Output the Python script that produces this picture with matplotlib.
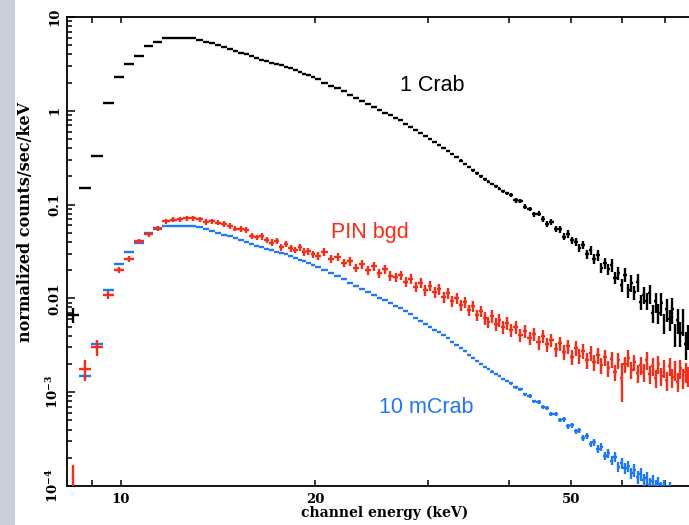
import numpy as np
import matplotlib
matplotlib.use("Agg")
import matplotlib.pyplot as plt
from matplotlib.patches import Rectangle
from matplotlib.ticker import NullFormatter, LogLocator

# ---------------- data ----------------
energy = [
    8.42, 8.79, 9.19, 9.56, 9.93, 10.29, 10.66, 11.05, 11.41,
    11.75, 12.05, 12.35, 12.65, 12.95, 13.25, 13.55, 13.85, 14.15, 14.45,
    14.75, 15.05, 15.35, 15.65, 15.95, 16.25, 16.55, 16.85, 17.15, 17.45,
    17.75, 18.05, 18.35, 18.65, 18.95, 19.25, 19.55, 19.85,
    20.2, 20.7, 21.2, 21.7, 22.2, 22.7, 23.2, 23.7, 24.2, 24.7,
    25.2, 25.7, 26.2, 26.7, 27.2, 27.7, 28.2, 28.7, 29.2, 29.7,
    30.2, 30.7, 31.2, 31.7, 32.2, 32.7, 33.2, 33.7, 34.2, 34.7,
    35.2, 35.7, 36.2, 36.7, 37.2, 37.7, 38.2, 38.7, 39.2, 39.7,
    40.3, 41.0, 41.7, 42.4, 43.1, 43.8, 44.5, 45.2, 45.9, 46.6,
    47.3, 48.0, 48.7, 49.4, 50.1, 50.8, 51.5, 52.2, 52.9, 53.6,
    54.3, 55.0, 55.7, 56.4, 57.1, 57.8, 58.5, 59.2, 59.9, 60.6,
    61.3, 62.0, 62.7, 63.4, 64.1, 64.8, 65.5, 66.2, 66.9, 67.6,
    68.3, 69.0, 69.7, 70.4, 71.1, 71.8, 72.5, 73.2, 73.9, 74.6,
    75.3, 76.0,
]

crab_1 = [
    0.00665, 0.150, 0.33, 1.21, 2.29, 3.16, 3.84, 4.91, 5.41,
    5.93, 5.97, 5.98, 5.97, 5.92, 5.71, 5.47, 5.22, 4.99, 4.78,
    4.57, 4.37, 4.17, 3.99, 3.82, 3.66, 3.52, 3.40, 3.27, 3.16,
    3.05, 2.94, 2.83, 2.71, 2.59, 2.48, 2.38, 2.28,
    2.16, 2.00, 1.86, 1.73, 1.61, 1.47, 1.36, 1.27, 1.18, 1.10,
    1.02, 0.957, 0.895, 0.839, 0.789, 0.730, 0.675, 0.625, 0.579, 0.537,
    0.500, 0.465, 0.433, 0.404, 0.377, 0.346, 0.319, 0.294, 0.272, 0.251,
    0.233, 0.216, 0.200, 0.187, 0.176, 0.166, 0.157, 0.148, 0.139, 0.132,
    0.1255, 0.1106, 0.1082, 0.0949, 0.0902, 0.0793, 0.0797, 0.0703, 0.0625, 0.0649,
    0.0551, 0.0548, 0.0456, 0.0487, 0.0417, 0.0403, 0.0347, 0.0370, 0.0294, 0.0328,
    0.0264, 0.0290, 0.0213, 0.0237, 0.0205, 0.0227, 0.0167, 0.0187, 0.0139, 0.0179,
    0.0122, 0.0147, 0.0116, 0.0149, 0.0092, 0.0110, 0.0094, 0.0113, 0.0070, 0.0093,
    0.0070, 0.0090, 0.0055, 0.0077, 0.0060, 0.0077, 0.0042, 0.0059, 0.0043, 0.0058,
    0.0033, 0.0040,
]
crab_1_rel_err = [
    0.18, 0.03, 0.02, 0.01, 0.01, 0.01, 0.01, 0.01, 0.01,
    0.01, 0.01, 0.01, 0.01, 0.01, 0.01, 0.01, 0.01, 0.01, 0.01,
    0.01, 0.01, 0.01, 0.01, 0.01, 0.01, 0.01, 0.01, 0.01, 0.01,
    0.012, 0.012, 0.012, 0.012, 0.012, 0.012, 0.012, 0.012,
    0.015, 0.015, 0.015, 0.015, 0.015, 0.015, 0.015, 0.015, 0.015, 0.015,
    0.02, 0.02, 0.02, 0.02, 0.02, 0.02, 0.02, 0.02, 0.02, 0.02,
    0.025, 0.03, 0.025, 0.03, 0.025, 0.03, 0.025, 0.03, 0.03, 0.03,
    0.035, 0.035, 0.04, 0.035, 0.04, 0.035, 0.04, 0.04, 0.04, 0.04,
    0.05, 0.06, 0.05, 0.06, 0.05, 0.06, 0.06, 0.07, 0.07, 0.07,
    0.08, 0.09, 0.08, 0.09, 0.09, 0.10, 0.10, 0.10, 0.11, 0.11,
    0.12, 0.14, 0.12, 0.14, 0.13, 0.15, 0.14, 0.16, 0.15, 0.17,
    0.18, 0.21, 0.18, 0.21, 0.19, 0.21, 0.20, 0.23, 0.22, 0.24,
    0.24, 0.28, 0.25, 0.28, 0.26, 0.30, 0.28, 0.30, 0.30, 0.32,
    0.33, 0.30,
]

pin_bgd = [
    8.0e-5, 1.77e-3, 3.03e-3, 0.0109, 0.0201, 0.0263, 0.0409, 0.0486, 0.0562,
    0.0668, 0.0693, 0.0701, 0.0719, 0.0711, 0.0701, 0.0652, 0.0668, 0.0644, 0.0628,
    0.0592, 0.0556, 0.0550, 0.0536, 0.0462, 0.0446, 0.0457, 0.0420, 0.0394, 0.0409,
    0.0349, 0.0380, 0.0344, 0.0328, 0.0353, 0.0313, 0.0320, 0.0297,
    0.0283, 0.0313, 0.0263, 0.0276, 0.0238, 0.0251, 0.0211, 0.0233, 0.0201, 0.0221,
    0.0187, 0.0206, 0.0173, 0.0169, 0.0177, 0.0150, 0.0161, 0.0132, 0.0146, 0.0123,
    0.0136, 0.0117, 0.0126, 0.01035, 0.0114, 0.00938, 0.0101, 0.00851, 0.00916, 0.00752,
    0.00830, 0.00665, 0.00735, 0.00618, 0.00560, 0.00649, 0.00533, 0.00589, 0.00495, 0.00547,
    0.00460, 0.00495, 0.00407, 0.00449, 0.00378, 0.00417, 0.00343, 0.00397, 0.00327, 0.00361,
    0.00289, 0.00335, 0.00269, 0.00311, 0.00237, 0.00296, 0.00243, 0.00275, 0.00220, 0.00262,
    0.00210, 0.00249, 0.00195, 0.00237, 0.00181, 0.00226, 0.00164, 0.00220, 0.00142, 0.00200,
    0.00232, 0.00173, 0.00210, 0.00160, 0.00195, 0.00164, 0.00220, 0.00156, 0.00190, 0.00142,
    0.00200, 0.00149, 0.00181, 0.00135, 0.00190, 0.00145, 0.00173, 0.00129, 0.00181, 0.00142,
    0.00164, 0.00149,
]
pin_bgd_rel_err = [
    1.10, 0.25, 0.20, 0.09, 0.07, 0.07, 0.06, 0.06, 0.06,
    0.06, 0.06, 0.06, 0.06, 0.06, 0.06, 0.07, 0.06, 0.07, 0.07,
    0.07, 0.07, 0.07, 0.07, 0.08, 0.07, 0.08, 0.08, 0.08, 0.08,
    0.08, 0.08, 0.09, 0.08, 0.09, 0.09, 0.09, 0.09,
    0.10, 0.10, 0.10, 0.10, 0.10, 0.11, 0.10, 0.11, 0.11, 0.11,
    0.11, 0.11, 0.12, 0.11, 0.12, 0.12, 0.12, 0.12, 0.12, 0.13,
    0.12, 0.13, 0.13, 0.13, 0.13, 0.13, 0.13, 0.14, 0.13, 0.14,
    0.14, 0.14, 0.14, 0.15, 0.14, 0.15, 0.15, 0.15, 0.15, 0.15,
    0.15, 0.16, 0.15, 0.16, 0.16, 0.16, 0.17, 0.16, 0.17, 0.17,
    0.17, 0.17, 0.18, 0.17, 0.18, 0.18, 0.18, 0.18, 0.19, 0.18,
    0.19, 0.19, 0.19, 0.20, 0.19, 0.20, 0.20, 0.20, 0.45, 0.20,
    0.20, 0.21, 0.20, 0.21, 0.21, 0.21, 0.21, 0.22, 0.21, 0.22,
    0.22, 0.22, 0.22, 0.23, 0.22, 0.23, 0.23, 0.23, 0.23, 0.23,
    0.24, 0.24,
]

crab_10m = [
    6.65e-5, 1.48e-3, 3.27e-3, 0.0123, 0.0233, 0.0313, 0.0389, 0.0498, 0.0550,
    0.0593, 0.0597, 0.0598, 0.0597, 0.0592, 0.0571, 0.0547, 0.0522, 0.0499, 0.0478,
    0.0457, 0.0437, 0.0417, 0.0399, 0.0382, 0.0366, 0.0352, 0.0340, 0.0327, 0.0316,
    0.0305, 0.0294, 0.0283, 0.0271, 0.0259, 0.0248, 0.0238, 0.0228,
    0.0216, 0.0200, 0.0186, 0.0173, 0.0161, 0.0147, 0.0136, 0.0127, 0.0118, 0.0110,
    0.0102, 0.00957, 0.00895, 0.00839, 0.00789, 0.00730, 0.00675, 0.00625, 0.00579, 0.00537,
    0.00500, 0.00465, 0.00433, 0.00404, 0.00377, 0.00346, 0.00319, 0.00294, 0.00272, 0.00251,
    0.00233, 0.00216, 0.00200, 0.00187, 0.00176, 0.00166, 0.00157, 0.00148, 0.00139, 0.00132,
    1.24e-3, 1.13e-3, 1.07e-3, 9.49e-4, 9.11e-4, 8.01e-4, 7.89e-4, 6.96e-4, 6.78e-4, 5.88e-4,
    5.91e-4, 5.11e-4, 5.15e-4, 4.32e-4, 4.42e-4, 3.83e-4, 3.91e-4, 3.26e-4, 3.42e-4, 2.80e-4,
    2.92e-4, 2.49e-4, 2.61e-4, 2.10e-4, 2.24e-4, 1.87e-4, 2.04e-4, 1.59e-4, 1.75e-4, 1.55e-4,
    1.62e-4, 1.38e-4, 1.48e-4, 1.25e-4, 1.33e-4, 1.15e-4, 1.22e-4, 1.03e-4, 1.12e-4, 0.98e-4,
    1.05e-4, 0.92e-4, 0.96e-4, 0.85e-4, 0.90e-4, 0.62e-4, 0.58e-4, 0.55e-4, 0.52e-4, 0.50e-4,
    0.47e-4, 0.45e-4,
]
crab_10m_rel_err = [
    0.20, 0.06, 0.05, 0.02, 0.015, 0.01, 0.01, 0.01, 0.01,
    0.01, 0.01, 0.01, 0.01, 0.01, 0.01, 0.01, 0.01, 0.01, 0.01,
    0.01, 0.01, 0.01, 0.01, 0.01, 0.01, 0.01, 0.01, 0.01, 0.01,
    0.01, 0.01, 0.01, 0.01, 0.01, 0.01, 0.01, 0.01,
    0.012, 0.012, 0.012, 0.012, 0.012, 0.012, 0.012, 0.012, 0.012, 0.012,
    0.015, 0.015, 0.015, 0.015, 0.015, 0.015, 0.015, 0.015, 0.015, 0.015,
    0.02, 0.02, 0.02, 0.02, 0.02, 0.02, 0.02, 0.02, 0.025, 0.025,
    0.025, 0.025, 0.025, 0.025, 0.03, 0.03, 0.03, 0.03, 0.03, 0.03,
    0.03, 0.035, 0.035, 0.035, 0.04, 0.04, 0.04, 0.04, 0.045, 0.045,
    0.05, 0.05, 0.06, 0.06, 0.07, 0.07, 0.07, 0.08, 0.08, 0.08,
    0.09, 0.09, 0.10, 0.10, 0.11, 0.11, 0.12, 0.12, 0.13, 0.13,
    0.14, 0.14, 0.15, 0.15, 0.16, 0.16, 0.17, 0.17, 0.18, 0.19,
    0.20, 0.21, 0.22, 0.22, 0.24, 0.15, 0.15, 0.15, 0.15, 0.15,
    0.15, 0.15,
]

series_labels = ["1 Crab", "PIN bgd", "10 mCrab"]
series_colors = ["#000000", "#ff2a14", "#1c78ff"]

x_major = [10, 20, 50]
x_major_labels = ["10", "20", "50"]
x_minor = [9, 30, 40, 60, 70]
y_ticks = [1e-4, 1e-3, 1e-2, 1e-1, 1, 10]
y_tick_labels = [r"$\mathbf{10^{-4}}$", r"$\mathbf{10^{-3}}$", "0.01", "0.1", "1", "10"]

# ---------------- figure ----------------
plt.rcParams["mathtext.fontset"] = "dejavuserif"
W, H = 689, 525
fig = plt.figure(figsize=(W / 100, H / 100), dpi=100)
fig.patch.set_facecolor("white")
fig.patches.append(Rectangle((0, 0), 15 / W, 1, transform=fig.transFigure,
                             facecolor="#c9d0da", edgecolor="none", zorder=0))

L, R, B, T = 67, 689, 486, 17
ax = fig.add_axes([L / W, (H - B) / H, (R - L) / W, (B - T) / H])
ax.set_xscale("log")
ax.set_yscale("log")
ax.set_xlim(8.245, 76.2)
ax.set_ylim(1e-4, 10)

E = np.array(energy)
mid = np.sqrt(E[:-1] * E[1:])
left_edge = np.concatenate([[E[0] ** 2 / mid[0]], mid])
right_edge = np.concatenate([mid, [E[-1] ** 2 / mid[-1]]])
xerr = [E - left_edge, right_edge - E]


def draw(vals, rel, color, z):
    v = np.array(vals)
    r = np.array(rel)
    yerr = [v * np.minimum(r, 0.9), v * r]
    ax.errorbar(E, v, xerr=xerr, yerr=yerr, fmt="none", ecolor=color,
                elinewidth=1.7, capsize=0, zorder=z)


draw(crab_10m, crab_10m_rel_err, series_colors[2], 3)
draw(pin_bgd, pin_bgd_rel_err, series_colors[1], 4)
draw(crab_1, crab_1_rel_err, series_colors[0], 5)

txt_font = dict(family="Liberation Sans", fontsize=15.5)
ax.text(27.1, 1.84, series_labels[0], color=series_colors[0], ha="left", va="center", **txt_font)
ax.text(21.2, 0.051, series_labels[1], color=series_colors[1], ha="left", va="center", **txt_font)
ax.text(25.2, 6.95e-4, series_labels[2], color=series_colors[2], ha="left", va="center", **txt_font)

# axes styling
for side in ["left", "bottom", "top"]:
    ax.spines[side].set_linewidth(1.3)
ax.spines["right"].set_visible(False)

ax.set_xticks(x_major)
ax.set_xticklabels(x_major_labels)
ax.set_xticks(x_minor, minor=True)
ax.xaxis.set_minor_formatter(NullFormatter())
ax.set_yticks(y_ticks)
ax.set_yticklabels(y_tick_labels, rotation=90, va="center")
ax.yaxis.set_minor_locator(LogLocator(base=10, subs=np.arange(2, 10)))
ax.yaxis.set_minor_formatter(NullFormatter())

ax.tick_params(axis="both", which="both", direction="in", top=True, right=False,
               width=1.1)
ax.tick_params(axis="x", which="both", length=4.5)
ax.tick_params(axis="y", which="major", length=6)
ax.tick_params(axis="y", which="minor", length=3.5)
ax.tick_params(axis="x", which="major", pad=5)
ax.tick_params(axis="y", which="major", pad=4)

for lab in ax.get_xticklabels() + ax.get_yticklabels():
    lab.set_fontfamily("DejaVu Serif")
    lab.set_fontweight("bold")
    lab.set_fontsize(9.5)

ax.set_xlabel("channel energy (keV)", family="DejaVu Serif", weight="bold", size=10)
ax.set_ylabel("normalized counts/sec/keV", family="DejaVu Serif", weight="bold", size=11.5)
ax.xaxis.set_label_coords((385 - L) / (R - L), -(506 - B) / (B - T))
ax.yaxis.set_label_coords(-(L - 34) / (R - L), (B - 222) / (B - T))

fig.savefig("out.png", dpi=100, facecolor=fig.get_facecolor())
